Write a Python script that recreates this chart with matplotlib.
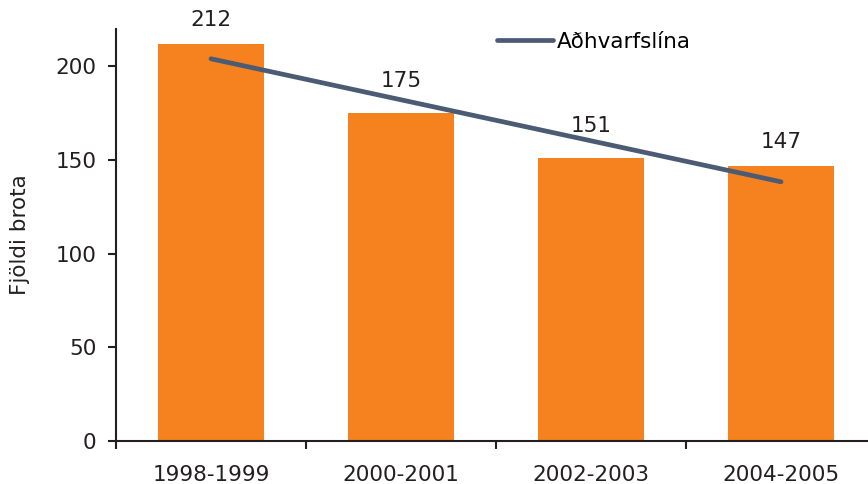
import numpy as np
import matplotlib
matplotlib.use("Agg")
import matplotlib.pyplot as plt

categories = ["1998-1999", "2000-2001", "2002-2003", "2004-2005"]
values = [212, 175, 151, 147]
trend_label = "Aðhvarfslína"
y_label = "Fjöldi brota"
y_ticks = [0, 50, 100, 150, 200]

# label offsets above bar top (points), style only
label_offsets = [17, 23, 23, 17]

W, H = 868, 484
dpi = 100
FS = 15.5
plt.rcParams['font.family'] = ['DejaVu Sans']
fig = plt.figure(figsize=(W / dpi, H / dpi), dpi=dpi)
ax = fig.add_axes([116 / W, 43 / H, 760 / W, 412 / H])

x = np.arange(len(categories))
ax.bar(x, values, width=0.56, color="#F5821F", zorder=2)

coef = np.polyfit(x, values, 1)
trend = np.polyval(coef, x)
ax.plot(x, trend, color="#4B5B73", lw=3.4, solid_capstyle="round", zorder=3,
        label=trend_label)

dark = "#231F20"
for xi, v, off in zip(x, values, label_offsets):
    ax.annotate(str(v), (xi, v), xytext=(0, off), textcoords="offset points",
                ha="center", va="center", fontsize=FS, color=dark)

ax.set_xlim(-0.5, 3.5)
ax.set_ylim(0, 220)
ax.set_yticks(y_ticks)
ax.set_xticks(x)
ax.set_xticklabels(categories)
ax.set_xticks(np.arange(-0.5, 4, 1), minor=True)
ax.tick_params(axis="x", which="major", length=0, pad=17, labelsize=FS, colors=dark)
ax.tick_params(axis="x", which="minor", length=6, width=1.5, direction="out", color=dark)
ax.tick_params(axis="y", length=6, width=1.5, direction="out", pad=8, labelsize=FS,
               colors=dark)

for s in ["top", "right"]:
    ax.spines[s].set_visible(False)
for s in ["left", "bottom"]:
    ax.spines[s].set_linewidth(1.5)
    ax.spines[s].set_color(dark)

ax.set_ylabel(y_label, fontsize=FS, color=dark)
ax.yaxis.set_label_coords(-0.113, 0.5)

ax.legend(loc="upper left", bbox_to_anchor=(497 / W, 1 - 32 / H),
          bbox_transform=fig.transFigure, frameon=False, fontsize=FS,
          handlelength=2.6, handletextpad=0.2, borderpad=0, borderaxespad=0)

fig.savefig("out.png", dpi=dpi)
